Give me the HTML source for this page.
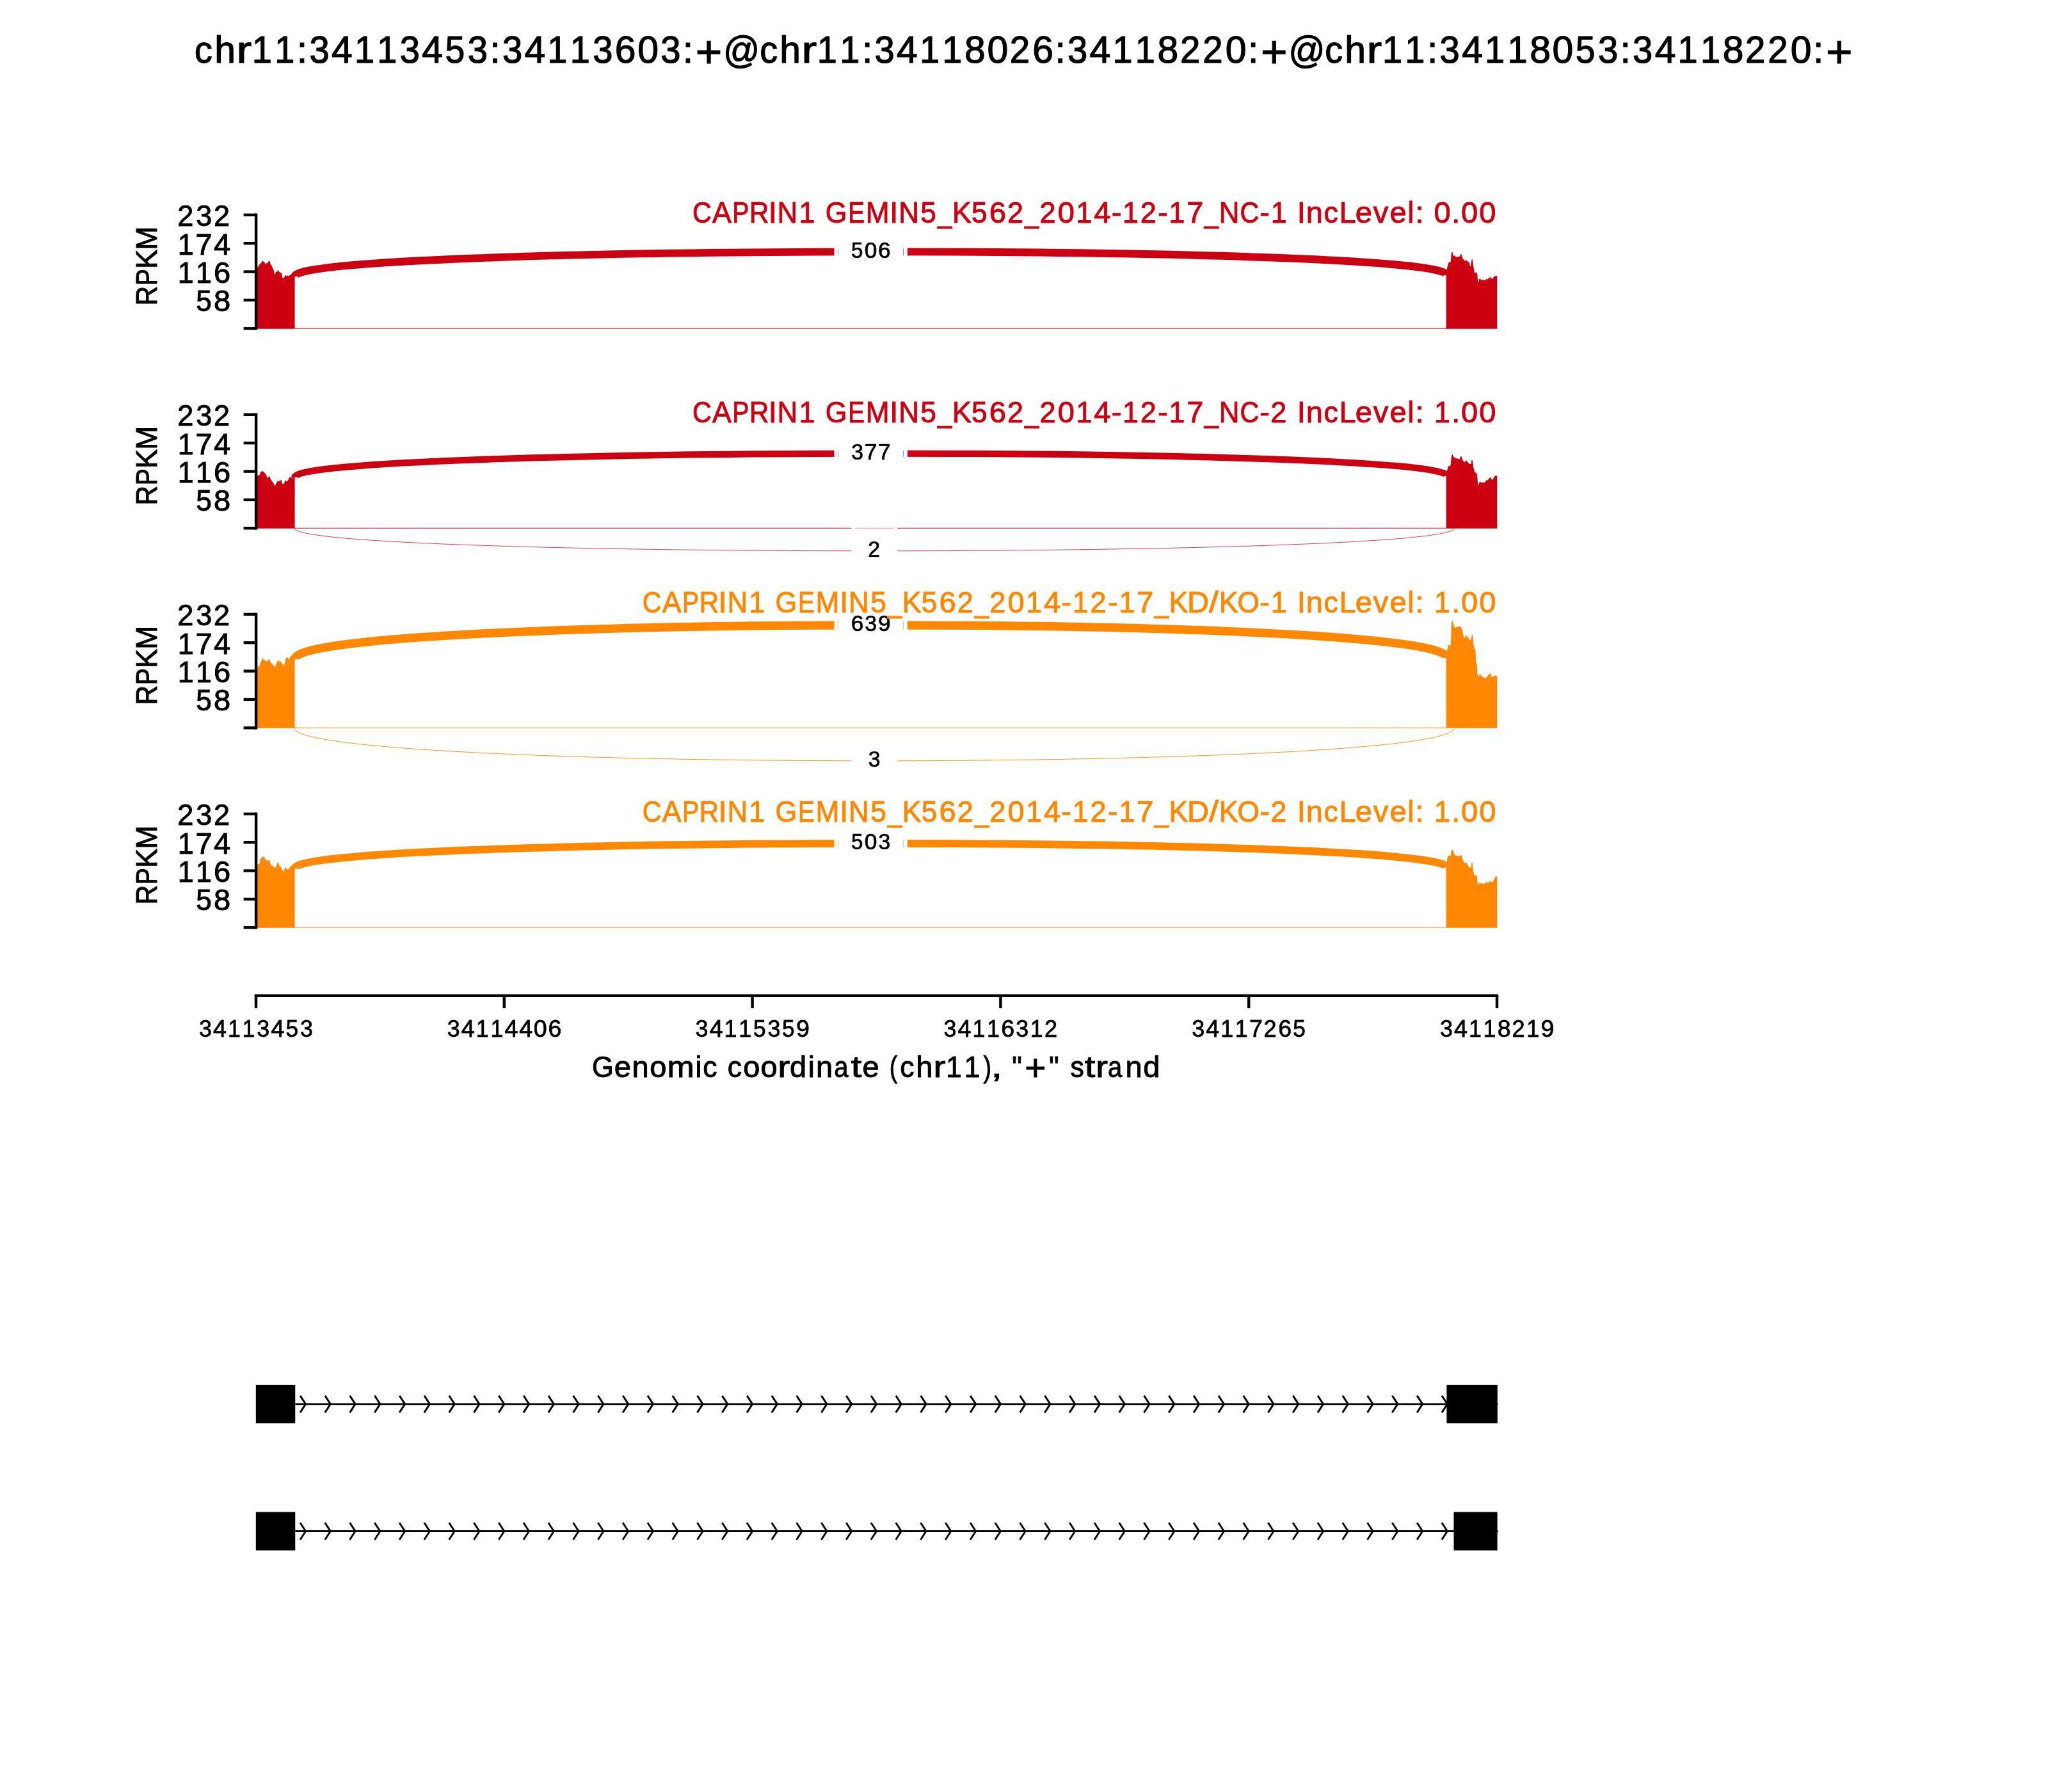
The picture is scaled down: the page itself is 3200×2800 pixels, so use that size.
<!DOCTYPE html>
<html lang="en">
<head>
<meta charset="utf-8">
<title>Sashimi plot chr11:34113453-34118220</title>
<style>
html,body{margin:0;padding:0;background:#fff;}
body{width:3200px;height:2800px;overflow:hidden;font-family:"Liberation Sans",sans-serif;}
svg{display:block;position:absolute;left:0;top:0;}
svg text{font-family:"Liberation Sans",sans-serif;white-space:pre;}
svg{will-change:transform;}
</style>
</head>
<body>
<svg width="3200" height="2800" viewBox="0 0 3200 2800">
<defs><clipPath id="gclip"><rect x="400" y="2100" width="1941" height="400"/></clipPath></defs>
<rect x="0" y="0" width="3200" height="2800" fill="#fff"/>
<text transform="translate(303.35 98.4)" font-size="58.87" fill="#000" stroke="#000" stroke-width="1.22"><tspan x="0.7" y="0" textLength="27.87" lengthAdjust="spacingAndGlyphs">c</tspan><tspan x="31.81" y="0">h</tspan><tspan x="66.07" y="0" textLength="23.7" lengthAdjust="spacingAndGlyphs">r</tspan><tspan x="90.44" y="0" textLength="31.11" lengthAdjust="spacingAndGlyphs">1</tspan><tspan x="125.79" y="0" textLength="31.11" lengthAdjust="spacingAndGlyphs">1</tspan><tspan x="160.48" y="0">:</tspan><tspan x="180.1" y="0" textLength="31.28" lengthAdjust="spacingAndGlyphs">3</tspan><tspan x="214.64" y="0">4</tspan><tspan x="250.54" y="0" textLength="31.11" lengthAdjust="spacingAndGlyphs">1</tspan><tspan x="285.89" y="0" textLength="31.11" lengthAdjust="spacingAndGlyphs">1</tspan><tspan x="321.48" y="0" textLength="31.28" lengthAdjust="spacingAndGlyphs">3</tspan><tspan x="356.03" y="0">4</tspan><tspan x="392.16" y="0" textLength="30.74" lengthAdjust="spacingAndGlyphs">5</tspan><tspan x="427.52" y="0" textLength="31.28" lengthAdjust="spacingAndGlyphs">3</tspan><tspan x="461.97" y="0">:</tspan><tspan x="481.59" y="0" textLength="31.28" lengthAdjust="spacingAndGlyphs">3</tspan><tspan x="516.13" y="0">4</tspan><tspan x="552.03" y="0" textLength="31.11" lengthAdjust="spacingAndGlyphs">1</tspan><tspan x="587.38" y="0" textLength="31.11" lengthAdjust="spacingAndGlyphs">1</tspan><tspan x="622.97" y="0" textLength="31.28" lengthAdjust="spacingAndGlyphs">3</tspan><tspan x="657.52 692.86" y="0">60</tspan><tspan x="729.01" y="0" textLength="31.28" lengthAdjust="spacingAndGlyphs">3</tspan><tspan x="763.46" y="0">:</tspan><tspan x="783.48" y="6.27" font-size="71.23">+</tspan><tspan x="826.76" y="0" textLength="57.34" lengthAdjust="spacingAndGlyphs">@</tspan><tspan x="883.79" y="0" textLength="27.87" lengthAdjust="spacingAndGlyphs">c</tspan><tspan x="914.9" y="0">h</tspan><tspan x="949.17" y="0" textLength="23.7" lengthAdjust="spacingAndGlyphs">r</tspan><tspan x="973.53" y="0" textLength="31.11" lengthAdjust="spacingAndGlyphs">1</tspan><tspan x="1008.88" y="0" textLength="31.11" lengthAdjust="spacingAndGlyphs">1</tspan><tspan x="1043.57" y="0">:</tspan><tspan x="1063.19" y="0" textLength="31.28" lengthAdjust="spacingAndGlyphs">3</tspan><tspan x="1097.73" y="0">4</tspan><tspan x="1133.63" y="0" textLength="31.11" lengthAdjust="spacingAndGlyphs">1</tspan><tspan x="1168.98" y="0" textLength="31.11" lengthAdjust="spacingAndGlyphs">1</tspan><tspan x="1203.77 1239.12" y="0">80</tspan><tspan x="1274.41" y="0" textLength="31.39" lengthAdjust="spacingAndGlyphs">2</tspan><tspan x="1309.81 1345.06" y="0">6:</tspan><tspan x="1364.68" y="0" textLength="31.28" lengthAdjust="spacingAndGlyphs">3</tspan><tspan x="1399.22" y="0">4</tspan><tspan x="1435.12" y="0" textLength="31.11" lengthAdjust="spacingAndGlyphs">1</tspan><tspan x="1470.47" y="0" textLength="31.11" lengthAdjust="spacingAndGlyphs">1</tspan><tspan x="1505.26" y="0">8</tspan><tspan x="1540.55" y="0" textLength="31.39" lengthAdjust="spacingAndGlyphs">2</tspan><tspan x="1575.9" y="0" textLength="31.39" lengthAdjust="spacingAndGlyphs">2</tspan><tspan x="1611.3 1646.55" y="0">0:</tspan><tspan x="1666.57" y="6.27" font-size="71.23">+</tspan><tspan x="1709.85" y="0" textLength="57.34" lengthAdjust="spacingAndGlyphs">@</tspan><tspan x="1766.88" y="0" textLength="27.87" lengthAdjust="spacingAndGlyphs">c</tspan><tspan x="1798" y="0">h</tspan><tspan x="1832.26" y="0" textLength="23.7" lengthAdjust="spacingAndGlyphs">r</tspan><tspan x="1856.62" y="0" textLength="31.11" lengthAdjust="spacingAndGlyphs">1</tspan><tspan x="1891.97" y="0" textLength="31.11" lengthAdjust="spacingAndGlyphs">1</tspan><tspan x="1926.67" y="0">:</tspan><tspan x="1946.28" y="0" textLength="31.28" lengthAdjust="spacingAndGlyphs">3</tspan><tspan x="1980.82" y="0">4</tspan><tspan x="2016.72" y="0" textLength="31.11" lengthAdjust="spacingAndGlyphs">1</tspan><tspan x="2052.07" y="0" textLength="31.11" lengthAdjust="spacingAndGlyphs">1</tspan><tspan x="2086.86 2122.21" y="0">80</tspan><tspan x="2158.34" y="0" textLength="30.74" lengthAdjust="spacingAndGlyphs">5</tspan><tspan x="2193.7" y="0" textLength="31.28" lengthAdjust="spacingAndGlyphs">3</tspan><tspan x="2228.15" y="0">:</tspan><tspan x="2247.77" y="0" textLength="31.28" lengthAdjust="spacingAndGlyphs">3</tspan><tspan x="2282.31" y="0">4</tspan><tspan x="2318.21" y="0" textLength="31.11" lengthAdjust="spacingAndGlyphs">1</tspan><tspan x="2353.56" y="0" textLength="31.11" lengthAdjust="spacingAndGlyphs">1</tspan><tspan x="2388.35" y="0">8</tspan><tspan x="2423.64" y="0" textLength="31.39" lengthAdjust="spacingAndGlyphs">2</tspan><tspan x="2458.99" y="0" textLength="31.39" lengthAdjust="spacingAndGlyphs">2</tspan><tspan x="2494.39 2529.64" y="0">0:</tspan><tspan x="2549.66" y="6.27" font-size="71.23">+</tspan></text>
<path d="M401.9 513.7 L401.9 418.3 L404.1 415.9 L406 412 L408.4 410.9 L409.4 407.3 L411 408.2 L413.4 409.7 L414.6 413.2 L416.6 410.5 L417.7 412 L418.9 408.9 L421.25 407.3 L422.8 412.8 L424.8 415.9 L427.5 421.8 L429.5 429.6 L431 425.3 L433 424.5 L434.5 421.4 L436.1 424.9 L440 426.5 L441.2 433.9 L443.5 434.7 L445.9 429.2 L447 431.6 L449.4 430.4 L450.9 431.6 L454.8 428.8 L457.2 428.3 L460.6 431.2 L460.6 513.7Z" fill="#CC0011"/>
<path d="M2259.6 513.7 L2259.6 430 L2261.25 418.3 L2263.6 410.1 L2266.7 409.3 L2267.9 394.5 L2269.5 394.1 L2271 400.3 L2272.6 399.1 L2273.75 400.7 L2277.7 401.9 L2280 400.3 L2280.8 401.5 L2282 397.6 L2283.5 397.2 L2285.5 404.6 L2287.8 405.8 L2288.6 407.7 L2291.7 406.6 L2294 409.7 L2296 409.7 L2296.8 415.9 L2298 415.9 L2299.5 405.4 L2300.7 405 L2302.3 416.7 L2304.2 426.9 L2306.2 425.7 L2307.3 424.9 L2308.5 430 L2309.3 440.9 L2310.5 439.4 L2312 434.3 L2314.8 438.6 L2316 436.6 L2317.5 437.8 L2321 437.4 L2322.6 435.5 L2323.4 437.8 L2325 435.1 L2326.9 433.9 L2328 435.1 L2329.4 431.2 L2330 433.9 L2331.6 435.9 L2333.1 433.9 L2335.1 431.6 L2337 431.2 L2338.2 431.6 L2339.3 430.4 L2339.3 513.7Z" fill="#CC0011"/>
<rect x="460.6" y="513" width="1799" height="1" fill="#CC0011" fill-opacity="0.68"/>
<rect x="460.6" y="512" width="1799" height="1" fill="#CC0011" fill-opacity="0.22"/>
<path d="M460.1 432 C460.1 381.73 2261.3 379.93 2261.3 430.2" fill="none" stroke="#CC0011" stroke-width="11.9"/>
<rect x="1303.5" y="353.2" width="6" height="75" fill="#fff"/>
<rect x="1310" y="353.2" width="101.4" height="75" fill="#fff"/>
<rect x="1411.9" y="353.2" width="6" height="75" fill="#fff"/>
<path d="M400.1 333.6 V515.52" stroke="#000" stroke-width="4.44" fill="none"/>
<path d="M380.6 335.82 H400.1" stroke="#000" stroke-width="4.44" fill="none"/>
<path d="M380.6 380.19 H400.1" stroke="#000" stroke-width="4.44" fill="none"/>
<path d="M380.6 424.56 H400.1" stroke="#000" stroke-width="4.44" fill="none"/>
<path d="M380.6 468.93 H400.1" stroke="#000" stroke-width="4.44" fill="none"/>
<path d="M380.6 513.3 H400.1" stroke="#000" stroke-width="4.44" fill="none"/>
<path d="M401.9 825.7 L401.9 743.6 L404.1 742.4 L406 742 L406.8 738.1 L409.9 736.1 L412.7 737.7 L414.6 740.8 L416.2 741.6 L417.3 747.5 L419.3 745.1 L421.6 744.3 L422.8 749 L424.8 751.4 L427.5 755.3 L429.3 759.6 L431.8 755.3 L434.1 751 L435.3 752.5 L438.4 750.2 L440 750.6 L441.2 755.7 L443.5 756.5 L445.9 749.4 L447 752.5 L449.4 751.4 L450.9 748.6 L452.5 745.5 L454.8 745.5 L456.4 747.5 L458 745.5 L460.6 745.9 L460.6 825.7Z" fill="#CC0011"/>
<path d="M2259.6 825.7 L2259.6 743.2 L2261.25 734.6 L2263.2 727.9 L2264.8 728.7 L2266.7 726.4 L2267.9 711.9 L2269.5 709.6 L2271 714.3 L2272.6 714.3 L2274.1 716.2 L2277.7 716.6 L2280.8 717.4 L2282 713.5 L2283.5 713.1 L2285.5 719.3 L2288.2 722.5 L2291.3 719.3 L2294 722.9 L2296.4 725.2 L2298.75 724.4 L2299.4 718.9 L2300.7 719.3 L2302.3 730.3 L2303.8 736.5 L2306.2 739.3 L2307.7 739.7 L2308.5 746.7 L2309.3 758.4 L2310.5 756.8 L2312 752.2 L2314.8 754.1 L2320.6 753.7 L2322.3 749.4 L2323.4 751.4 L2325 749.4 L2328 746.7 L2329.4 745.1 L2330.4 748.6 L2332.3 749.8 L2334.7 745.1 L2336.6 743.2 L2338.2 743.6 L2339.3 742.4 L2339.3 825.7Z" fill="#CC0011"/>
<rect x="460.6" y="825" width="1799" height="1" fill="#CC0011" fill-opacity="0.68"/>
<rect x="460.6" y="824" width="1799" height="1" fill="#CC0011" fill-opacity="0.22"/>
<path d="M460.1 745.8 C460.1 697.4 2261.3 695.6 2261.3 744" fill="none" stroke="#CC0011" stroke-width="10.3"/>
<rect x="1303.5" y="668.4" width="6" height="75" fill="#fff"/>
<rect x="1310" y="668.4" width="101.4" height="75" fill="#fff"/>
<rect x="1411.9" y="668.4" width="6" height="75" fill="#fff"/>
<path d="M460.1 825.3 C460.1 872.63 2272.2 872.63 2272.2 825.3" fill="none" stroke="#CC0011" stroke-width="0.75"/>
<rect x="1330.25" y="819.9" width="6" height="75" fill="#fff"/>
<rect x="1396.05" y="819.9" width="6" height="75" fill="#fff"/>
<rect x="1336.25" y="819.9" width="59.8" height="6.6" fill="#fff" fill-opacity="0.55"/>
<rect x="1330.25" y="826.5" width="71.8" height="68.4" fill="#fff"/>
<path d="M400.1 645.6 V827.52" stroke="#000" stroke-width="4.44" fill="none"/>
<path d="M380.6 647.82 H400.1" stroke="#000" stroke-width="4.44" fill="none"/>
<path d="M380.6 692.19 H400.1" stroke="#000" stroke-width="4.44" fill="none"/>
<path d="M380.6 736.56 H400.1" stroke="#000" stroke-width="4.44" fill="none"/>
<path d="M380.6 780.93 H400.1" stroke="#000" stroke-width="4.44" fill="none"/>
<path d="M380.6 825.3 H400.1" stroke="#000" stroke-width="4.44" fill="none"/>
<path d="M401.9 1137.7 L401.9 1043.1 L404.1 1041.1 L406 1040.7 L406.8 1035.25 L408.4 1032.9 L409.5 1027.8 L411.5 1030.2 L413.4 1031 L414.6 1032.9 L416.2 1031.3 L417.3 1034.5 L418.9 1031.3 L421.25 1030.2 L422.8 1035.25 L424.8 1036.8 L426.7 1039.5 L428.3 1039.2 L429.5 1044.2 L431 1038.8 L433 1034.9 L434.4 1031 L436.1 1033.3 L437.7 1034.5 L438.8 1032.9 L440 1036 L441.6 1038 L442.7 1037.6 L443.5 1040.7 L445.1 1036 L445.9 1029.4 L448.2 1027 L449.8 1027.4 L450.9 1031 L452.1 1030.6 L452.5 1027 L454 1026.3 L457 1028.5 L460.6 1029.8 L460.6 1137.7Z" fill="#FF8800"/>
<path d="M2259.6 1137.7 L2259.6 1028 L2261.4 1015 L2263 1007.4 L2264.7 1009 L2266.8 1007.4 L2267.9 973.3 L2269.5 969.5 L2271.7 978.2 L2273.9 981.4 L2277.7 978.7 L2279.8 979.8 L2282.5 978.7 L2284.2 982.5 L2285.8 990.6 L2288.5 997.7 L2291.2 991.7 L2293.4 996.6 L2295.5 997.7 L2296.6 1000.4 L2298.8 998.2 L2299.9 991.2 L2300.9 991.7 L2302.6 1008.5 L2304.2 1014.4 L2305.3 1015.5 L2306.4 1035.6 L2307.8 1038.8 L2308.5 1052.9 L2310.1 1057.8 L2312.3 1052.9 L2314.5 1056.1 L2317.7 1058.3 L2320.4 1059.9 L2322.1 1057.8 L2322.9 1058.8 L2325.3 1054.5 L2327.5 1053.4 L2329.4 1051.8 L2330.7 1057.2 L2332.3 1058.3 L2334.5 1055.6 L2337.8 1055.6 L2339.3 1056.7 L2339.3 1137.7Z" fill="#FF8800"/>
<rect x="460.6" y="1137" width="1799" height="1" fill="#FF8800" fill-opacity="0.68"/>
<rect x="460.6" y="1136" width="1799" height="1" fill="#FF8800" fill-opacity="0.22"/>
<path d="M460.1 1030 C460.1 960.53 2261.3 958.53 2261.3 1028" fill="none" stroke="#FF8800" stroke-width="13.2"/>
<rect x="1303.5" y="936.7" width="6" height="75" fill="#fff"/>
<rect x="1310" y="936.7" width="101.4" height="75" fill="#fff"/>
<rect x="1411.9" y="936.7" width="6" height="75" fill="#fff"/>
<path d="M460.1 1137.3 C460.1 1205.97 2272.2 1205.97 2272.2 1137.3" fill="none" stroke="#FF8800" stroke-width="0.92"/>
<rect x="1330.25" y="1147.9" width="71.8" height="75" fill="#fff"/>
<path d="M400.1 957.6 V1139.52" stroke="#000" stroke-width="4.44" fill="none"/>
<path d="M380.6 959.82 H400.1" stroke="#000" stroke-width="4.44" fill="none"/>
<path d="M380.6 1004.19 H400.1" stroke="#000" stroke-width="4.44" fill="none"/>
<path d="M380.6 1048.56 H400.1" stroke="#000" stroke-width="4.44" fill="none"/>
<path d="M380.6 1092.93 H400.1" stroke="#000" stroke-width="4.44" fill="none"/>
<path d="M380.6 1137.3 H400.1" stroke="#000" stroke-width="4.44" fill="none"/>
<path d="M401.9 1449.7 L401.9 1351.5 L404.1 1349.6 L406 1349.2 L406.6 1343 L408.4 1341 L409.9 1338.3 L413 1339.4 L415 1343.3 L416.6 1343.3 L417.5 1346.5 L418.9 1344.5 L421.25 1343.7 L422.8 1350.8 L424.8 1352.7 L426.7 1353.9 L428.3 1353.5 L429.3 1357.8 L431.8 1353.1 L433.4 1348 L434.5 1347.6 L436.5 1352.7 L438.4 1354.3 L440.8 1358.6 L443.5 1362.9 L445.1 1355.1 L446.25 1354.3 L447.2 1358.6 L450.2 1357.4 L451.3 1359 L453.3 1354.3 L454.8 1353.5 L457 1355.5 L460.6 1356.6 L460.6 1449.7Z" fill="#FF8800"/>
<path d="M2259.6 1449.7 L2259.6 1355.1 L2260.9 1346.1 L2262 1337.5 L2263.6 1336.7 L2265.5 1337.1 L2266.7 1338.7 L2267.9 1327.7 L2269.5 1327.3 L2272.6 1334.4 L2273.75 1337.1 L2276.9 1337.5 L2280 1337.1 L2281.2 1337.9 L2282.2 1336.3 L2283.5 1336.3 L2285.5 1343.3 L2287.8 1348 L2289.4 1348.8 L2291.7 1348 L2294.5 1353.9 L2295.6 1353.9 L2296.8 1356.2 L2298.75 1355.1 L2299.4 1348 L2300.7 1348 L2301.9 1361.3 L2303.4 1366.8 L2305.8 1368.3 L2307.7 1367.95 L2308.5 1376.2 L2309.3 1383.6 L2310.9 1380.8 L2312 1378.1 L2314 1380.8 L2316.7 1380.5 L2320.6 1380.8 L2321.6 1377.7 L2322.6 1377.3 L2323.4 1380.5 L2326.9 1377.7 L2328.4 1377.7 L2329.4 1375 L2330.4 1377.7 L2332.7 1378.1 L2334.7 1373.8 L2336.6 1369.9 L2338.2 1369.5 L2339.3 1369.1 L2339.3 1449.7Z" fill="#FF8800"/>
<rect x="460.6" y="1449" width="1799" height="1" fill="#FF8800" fill-opacity="0.68"/>
<rect x="460.6" y="1448" width="1799" height="1" fill="#FF8800" fill-opacity="0.22"/>
<path d="M460.1 1357 C460.1 1305.67 2261.3 1304.47 2261.3 1355.8" fill="none" stroke="#FF8800" stroke-width="11.8"/>
<rect x="1303.5" y="1277.7" width="6" height="75" fill="#fff"/>
<rect x="1310" y="1277.7" width="101.4" height="75" fill="#fff"/>
<rect x="1411.9" y="1277.7" width="6" height="75" fill="#fff"/>
<path d="M400.1 1269.6 V1451.52" stroke="#000" stroke-width="4.44" fill="none"/>
<path d="M380.6 1271.82 H400.1" stroke="#000" stroke-width="4.44" fill="none"/>
<path d="M380.6 1316.19 H400.1" stroke="#000" stroke-width="4.44" fill="none"/>
<path d="M380.6 1360.56 H400.1" stroke="#000" stroke-width="4.44" fill="none"/>
<path d="M380.6 1404.93 H400.1" stroke="#000" stroke-width="4.44" fill="none"/>
<path d="M380.6 1449.3 H400.1" stroke="#000" stroke-width="4.44" fill="none"/>
<text transform="translate(1328.89 402.85)" font-size="35.32" fill="#000" stroke="#000" stroke-width="0.73"><tspan x="1.24" y="0" textLength="18.44" lengthAdjust="spacingAndGlyphs">5</tspan><tspan x="21.98 43.19" y="0">06</tspan></text>
<text transform="translate(1081.61 347.6)" font-size="47.09" fill="#CC0011" stroke="#CC0011" stroke-width="0.98"><tspan x="0.4" y="0" textLength="29.79" lengthAdjust="spacingAndGlyphs">C</tspan><tspan x="31.29" y="0" textLength="29.86" lengthAdjust="spacingAndGlyphs">A</tspan><tspan x="62.57" y="0" textLength="26.22" lengthAdjust="spacingAndGlyphs">P</tspan><tspan x="89.11" y="0" textLength="30.7" lengthAdjust="spacingAndGlyphs">R</tspan><tspan x="119.13" y="0">I</tspan><tspan x="132.99" y="0" textLength="31.7" lengthAdjust="spacingAndGlyphs">N</tspan><tspan x="166.95" y="0" textLength="24.89" lengthAdjust="spacingAndGlyphs">1</tspan><tspan x="193.75" y="0"> </tspan><tspan x="208.19" y="0" textLength="33.72" lengthAdjust="spacingAndGlyphs">G</tspan><tspan x="243.52" y="0" textLength="25.69" lengthAdjust="spacingAndGlyphs">E</tspan><tspan x="271.12" y="0" textLength="36.91" lengthAdjust="spacingAndGlyphs">M</tspan><tspan x="308.75" y="0">I</tspan><tspan x="322.61" y="0" textLength="31.7" lengthAdjust="spacingAndGlyphs">N</tspan><tspan x="356.75" y="0" textLength="24.59" lengthAdjust="spacingAndGlyphs">5</tspan><tspan x="383.54" y="0" textLength="22.04" lengthAdjust="spacingAndGlyphs">_</tspan><tspan x="406.28" y="0" textLength="29.9" lengthAdjust="spacingAndGlyphs">K</tspan><tspan x="436.4" y="0" textLength="24.59" lengthAdjust="spacingAndGlyphs">5</tspan><tspan x="464.05" y="0">6</tspan><tspan x="492.28" y="0" textLength="25.12" lengthAdjust="spacingAndGlyphs">2</tspan><tspan x="519.74" y="0" textLength="22.04" lengthAdjust="spacingAndGlyphs">_</tspan><tspan x="542.78" y="0" textLength="25.12" lengthAdjust="spacingAndGlyphs">2</tspan><tspan x="571.1" y="0">0</tspan><tspan x="599.82" y="0" textLength="24.89" lengthAdjust="spacingAndGlyphs">1</tspan><tspan x="627.65 655.08" y="0">4-</tspan><tspan x="672.41" y="0" textLength="24.89" lengthAdjust="spacingAndGlyphs">1</tspan><tspan x="700.2" y="0" textLength="25.12" lengthAdjust="spacingAndGlyphs">2</tspan><tspan x="727.67" y="0">-</tspan><tspan x="745" y="0" textLength="24.89" lengthAdjust="spacingAndGlyphs">1</tspan><tspan x="772.75" y="0">7</tspan><tspan x="800.24" y="0" textLength="22.04" lengthAdjust="spacingAndGlyphs">_</tspan><tspan x="823.06" y="0" textLength="31.7" lengthAdjust="spacingAndGlyphs">N</tspan><tspan x="855.95" y="0" textLength="29.79" lengthAdjust="spacingAndGlyphs">C</tspan><tspan x="886.76" y="0">-</tspan><tspan x="904.09" y="0" textLength="24.89" lengthAdjust="spacingAndGlyphs">1</tspan><tspan x="930.89 945.03 959.21" y="0"> In</tspan><tspan x="986.85" y="0" textLength="22.3" lengthAdjust="spacingAndGlyphs">c</tspan><tspan x="1010.93 1036.16 1064.21 1089.8" y="0">Leve</tspan><tspan x="1117.61" y="0" textLength="10.09" lengthAdjust="spacingAndGlyphs">l</tspan><tspan x="1129.79 1143.8 1158.96 1186.71 1201.37 1229.64" y="0">: 0.00</tspan></text>
<text transform="translate(276.37 353.32)" font-size="47.09" fill="#000" stroke="#000" stroke-width="0.98"><tspan x="0.98" y="0" textLength="25.12" lengthAdjust="spacingAndGlyphs">2</tspan><tspan x="29.95" y="0" textLength="25.02" lengthAdjust="spacingAndGlyphs">3</tspan><tspan x="57.54" y="0" textLength="25.12" lengthAdjust="spacingAndGlyphs">2</tspan></text>
<text transform="translate(276.37 397.69)" font-size="47.09" fill="#000" stroke="#000" stroke-width="0.98"><tspan x="1.47" y="0" textLength="24.89" lengthAdjust="spacingAndGlyphs">1</tspan><tspan x="29.22 57.58" y="0">74</tspan></text>
<text transform="translate(276.37 442.06)" font-size="47.09" fill="#000" stroke="#000" stroke-width="0.98"><tspan x="1.47" y="0" textLength="24.89" lengthAdjust="spacingAndGlyphs">1</tspan><tspan x="29.75" y="0" textLength="24.89" lengthAdjust="spacingAndGlyphs">1</tspan><tspan x="57.59" y="0">6</tspan></text>
<text transform="translate(304.65 486.43)" font-size="47.09" fill="#000" stroke="#000" stroke-width="0.98"><tspan x="1.66" y="0" textLength="24.59" lengthAdjust="spacingAndGlyphs">5</tspan><tspan x="29.31" y="0">8</tspan></text>
<text transform="translate(245 478.3) rotate(-90)" font-size="47.09" fill="#000" stroke="#000" stroke-width="0.98"><tspan x="0.88" y="0" textLength="30.7" lengthAdjust="spacingAndGlyphs">R</tspan><tspan x="32.02" y="0" textLength="26.22" lengthAdjust="spacingAndGlyphs">P</tspan><tspan x="58.37" y="0" textLength="29.9" lengthAdjust="spacingAndGlyphs">K</tspan><tspan x="87.55" y="0" textLength="36.91" lengthAdjust="spacingAndGlyphs">M</tspan></text>
<text transform="translate(1328.89 718.05)" font-size="35.32" fill="#000" stroke="#000" stroke-width="0.73"><tspan x="1.25" y="0" textLength="18.77" lengthAdjust="spacingAndGlyphs">3</tspan><tspan x="21.92 43.12" y="0">77</tspan></text>
<text transform="translate(1355.55 869.55)" font-size="35.32" fill="#000" stroke="#000" stroke-width="0.73"><tspan x="0.74" y="0" textLength="18.84" lengthAdjust="spacingAndGlyphs">2</tspan></text>
<text transform="translate(1081.61 659.6)" font-size="47.09" fill="#CC0011" stroke="#CC0011" stroke-width="0.98"><tspan x="0.4" y="0" textLength="29.79" lengthAdjust="spacingAndGlyphs">C</tspan><tspan x="31.29" y="0" textLength="29.86" lengthAdjust="spacingAndGlyphs">A</tspan><tspan x="62.57" y="0" textLength="26.22" lengthAdjust="spacingAndGlyphs">P</tspan><tspan x="89.11" y="0" textLength="30.7" lengthAdjust="spacingAndGlyphs">R</tspan><tspan x="119.13" y="0">I</tspan><tspan x="132.99" y="0" textLength="31.7" lengthAdjust="spacingAndGlyphs">N</tspan><tspan x="166.95" y="0" textLength="24.89" lengthAdjust="spacingAndGlyphs">1</tspan><tspan x="193.75" y="0"> </tspan><tspan x="208.19" y="0" textLength="33.72" lengthAdjust="spacingAndGlyphs">G</tspan><tspan x="243.52" y="0" textLength="25.69" lengthAdjust="spacingAndGlyphs">E</tspan><tspan x="271.12" y="0" textLength="36.91" lengthAdjust="spacingAndGlyphs">M</tspan><tspan x="308.75" y="0">I</tspan><tspan x="322.61" y="0" textLength="31.7" lengthAdjust="spacingAndGlyphs">N</tspan><tspan x="356.75" y="0" textLength="24.59" lengthAdjust="spacingAndGlyphs">5</tspan><tspan x="383.54" y="0" textLength="22.04" lengthAdjust="spacingAndGlyphs">_</tspan><tspan x="406.28" y="0" textLength="29.9" lengthAdjust="spacingAndGlyphs">K</tspan><tspan x="436.4" y="0" textLength="24.59" lengthAdjust="spacingAndGlyphs">5</tspan><tspan x="464.05" y="0">6</tspan><tspan x="492.28" y="0" textLength="25.12" lengthAdjust="spacingAndGlyphs">2</tspan><tspan x="519.74" y="0" textLength="22.04" lengthAdjust="spacingAndGlyphs">_</tspan><tspan x="542.78" y="0" textLength="25.12" lengthAdjust="spacingAndGlyphs">2</tspan><tspan x="571.1" y="0">0</tspan><tspan x="599.82" y="0" textLength="24.89" lengthAdjust="spacingAndGlyphs">1</tspan><tspan x="627.65 655.08" y="0">4-</tspan><tspan x="672.41" y="0" textLength="24.89" lengthAdjust="spacingAndGlyphs">1</tspan><tspan x="700.2" y="0" textLength="25.12" lengthAdjust="spacingAndGlyphs">2</tspan><tspan x="727.67" y="0">-</tspan><tspan x="745" y="0" textLength="24.89" lengthAdjust="spacingAndGlyphs">1</tspan><tspan x="772.75" y="0">7</tspan><tspan x="800.24" y="0" textLength="22.04" lengthAdjust="spacingAndGlyphs">_</tspan><tspan x="823.06" y="0" textLength="31.7" lengthAdjust="spacingAndGlyphs">N</tspan><tspan x="855.95" y="0" textLength="29.79" lengthAdjust="spacingAndGlyphs">C</tspan><tspan x="886.76" y="0">-</tspan><tspan x="903.6" y="0" textLength="25.12" lengthAdjust="spacingAndGlyphs">2</tspan><tspan x="930.89 945.03 959.21" y="0"> In</tspan><tspan x="986.85" y="0" textLength="22.3" lengthAdjust="spacingAndGlyphs">c</tspan><tspan x="1010.93 1036.16 1064.21 1089.8" y="0">Leve</tspan><tspan x="1117.61" y="0" textLength="10.09" lengthAdjust="spacingAndGlyphs">l</tspan><tspan x="1129.79 1143.8" y="0">: </tspan><tspan x="1159.41" y="0" textLength="24.89" lengthAdjust="spacingAndGlyphs">1</tspan><tspan x="1186.71 1201.37 1229.64" y="0">.00</tspan></text>
<text transform="translate(276.37 665.32)" font-size="47.09" fill="#000" stroke="#000" stroke-width="0.98"><tspan x="0.98" y="0" textLength="25.12" lengthAdjust="spacingAndGlyphs">2</tspan><tspan x="29.95" y="0" textLength="25.02" lengthAdjust="spacingAndGlyphs">3</tspan><tspan x="57.54" y="0" textLength="25.12" lengthAdjust="spacingAndGlyphs">2</tspan></text>
<text transform="translate(276.37 709.69)" font-size="47.09" fill="#000" stroke="#000" stroke-width="0.98"><tspan x="1.47" y="0" textLength="24.89" lengthAdjust="spacingAndGlyphs">1</tspan><tspan x="29.22 57.58" y="0">74</tspan></text>
<text transform="translate(276.37 754.06)" font-size="47.09" fill="#000" stroke="#000" stroke-width="0.98"><tspan x="1.47" y="0" textLength="24.89" lengthAdjust="spacingAndGlyphs">1</tspan><tspan x="29.75" y="0" textLength="24.89" lengthAdjust="spacingAndGlyphs">1</tspan><tspan x="57.59" y="0">6</tspan></text>
<text transform="translate(304.65 798.43)" font-size="47.09" fill="#000" stroke="#000" stroke-width="0.98"><tspan x="1.66" y="0" textLength="24.59" lengthAdjust="spacingAndGlyphs">5</tspan><tspan x="29.31" y="0">8</tspan></text>
<text transform="translate(245 790.3) rotate(-90)" font-size="47.09" fill="#000" stroke="#000" stroke-width="0.98"><tspan x="0.88" y="0" textLength="30.7" lengthAdjust="spacingAndGlyphs">R</tspan><tspan x="32.02" y="0" textLength="26.22" lengthAdjust="spacingAndGlyphs">P</tspan><tspan x="58.37" y="0" textLength="29.9" lengthAdjust="spacingAndGlyphs">K</tspan><tspan x="87.55" y="0" textLength="36.91" lengthAdjust="spacingAndGlyphs">M</tspan></text>
<text transform="translate(1328.89 986.35)" font-size="35.32" fill="#000" stroke="#000" stroke-width="0.73"><tspan x="0.78" y="0">6</tspan><tspan x="22.46" y="0" textLength="18.77" lengthAdjust="spacingAndGlyphs">3</tspan><tspan x="43.08" y="0">9</tspan></text>
<text transform="translate(1355.55 1197.55)" font-size="35.32" fill="#000" stroke="#000" stroke-width="0.73"><tspan x="1.25" y="0" textLength="18.77" lengthAdjust="spacingAndGlyphs">3</tspan></text>
<text transform="translate(1003.42 956.8)" font-size="47.09" fill="#FF8800" stroke="#FF8800" stroke-width="0.98"><tspan x="0.4" y="0" textLength="29.79" lengthAdjust="spacingAndGlyphs">C</tspan><tspan x="31.29" y="0" textLength="29.86" lengthAdjust="spacingAndGlyphs">A</tspan><tspan x="62.57" y="0" textLength="26.22" lengthAdjust="spacingAndGlyphs">P</tspan><tspan x="89.11" y="0" textLength="30.7" lengthAdjust="spacingAndGlyphs">R</tspan><tspan x="119.13" y="0">I</tspan><tspan x="132.99" y="0" textLength="31.7" lengthAdjust="spacingAndGlyphs">N</tspan><tspan x="166.95" y="0" textLength="24.89" lengthAdjust="spacingAndGlyphs">1</tspan><tspan x="193.75" y="0"> </tspan><tspan x="208.19" y="0" textLength="33.72" lengthAdjust="spacingAndGlyphs">G</tspan><tspan x="243.52" y="0" textLength="25.69" lengthAdjust="spacingAndGlyphs">E</tspan><tspan x="271.12" y="0" textLength="36.91" lengthAdjust="spacingAndGlyphs">M</tspan><tspan x="308.75" y="0">I</tspan><tspan x="322.61" y="0" textLength="31.7" lengthAdjust="spacingAndGlyphs">N</tspan><tspan x="356.75" y="0" textLength="24.59" lengthAdjust="spacingAndGlyphs">5</tspan><tspan x="383.54" y="0" textLength="22.04" lengthAdjust="spacingAndGlyphs">_</tspan><tspan x="406.28" y="0" textLength="29.9" lengthAdjust="spacingAndGlyphs">K</tspan><tspan x="436.4" y="0" textLength="24.59" lengthAdjust="spacingAndGlyphs">5</tspan><tspan x="464.05" y="0">6</tspan><tspan x="492.28" y="0" textLength="25.12" lengthAdjust="spacingAndGlyphs">2</tspan><tspan x="519.74" y="0" textLength="22.04" lengthAdjust="spacingAndGlyphs">_</tspan><tspan x="542.78" y="0" textLength="25.12" lengthAdjust="spacingAndGlyphs">2</tspan><tspan x="571.1" y="0">0</tspan><tspan x="599.82" y="0" textLength="24.89" lengthAdjust="spacingAndGlyphs">1</tspan><tspan x="627.65 655.08" y="0">4-</tspan><tspan x="672.41" y="0" textLength="24.89" lengthAdjust="spacingAndGlyphs">1</tspan><tspan x="700.2" y="0" textLength="25.12" lengthAdjust="spacingAndGlyphs">2</tspan><tspan x="727.67" y="0">-</tspan><tspan x="745" y="0" textLength="24.89" lengthAdjust="spacingAndGlyphs">1</tspan><tspan x="772.75" y="0">7</tspan><tspan x="800.24" y="0" textLength="22.04" lengthAdjust="spacingAndGlyphs">_</tspan><tspan x="822.99" y="0" textLength="29.9" lengthAdjust="spacingAndGlyphs">K</tspan><tspan x="851.62" y="0">D</tspan><tspan x="885.67" y="0" textLength="14.97" lengthAdjust="spacingAndGlyphs">/</tspan><tspan x="901.33" y="0" textLength="29.9" lengthAdjust="spacingAndGlyphs">K</tspan><tspan x="930.2" y="0" textLength="34.17" lengthAdjust="spacingAndGlyphs">O</tspan><tspan x="964.95" y="0">-</tspan><tspan x="982.28" y="0" textLength="24.89" lengthAdjust="spacingAndGlyphs">1</tspan><tspan x="1009.08 1023.22 1037.4" y="0"> In</tspan><tspan x="1065.04" y="0" textLength="22.3" lengthAdjust="spacingAndGlyphs">c</tspan><tspan x="1089.12 1114.35 1142.4 1167.99" y="0">Leve</tspan><tspan x="1195.8" y="0" textLength="10.09" lengthAdjust="spacingAndGlyphs">l</tspan><tspan x="1207.97 1221.99" y="0">: </tspan><tspan x="1237.59" y="0" textLength="24.89" lengthAdjust="spacingAndGlyphs">1</tspan><tspan x="1264.9 1279.56 1307.83" y="0">.00</tspan></text>
<text transform="translate(276.37 977.32)" font-size="47.09" fill="#000" stroke="#000" stroke-width="0.98"><tspan x="0.98" y="0" textLength="25.12" lengthAdjust="spacingAndGlyphs">2</tspan><tspan x="29.95" y="0" textLength="25.02" lengthAdjust="spacingAndGlyphs">3</tspan><tspan x="57.54" y="0" textLength="25.12" lengthAdjust="spacingAndGlyphs">2</tspan></text>
<text transform="translate(276.37 1021.69)" font-size="47.09" fill="#000" stroke="#000" stroke-width="0.98"><tspan x="1.47" y="0" textLength="24.89" lengthAdjust="spacingAndGlyphs">1</tspan><tspan x="29.22 57.58" y="0">74</tspan></text>
<text transform="translate(276.37 1066.06)" font-size="47.09" fill="#000" stroke="#000" stroke-width="0.98"><tspan x="1.47" y="0" textLength="24.89" lengthAdjust="spacingAndGlyphs">1</tspan><tspan x="29.75" y="0" textLength="24.89" lengthAdjust="spacingAndGlyphs">1</tspan><tspan x="57.59" y="0">6</tspan></text>
<text transform="translate(304.65 1110.43)" font-size="47.09" fill="#000" stroke="#000" stroke-width="0.98"><tspan x="1.66" y="0" textLength="24.59" lengthAdjust="spacingAndGlyphs">5</tspan><tspan x="29.31" y="0">8</tspan></text>
<text transform="translate(245 1102.3) rotate(-90)" font-size="47.09" fill="#000" stroke="#000" stroke-width="0.98"><tspan x="0.88" y="0" textLength="30.7" lengthAdjust="spacingAndGlyphs">R</tspan><tspan x="32.02" y="0" textLength="26.22" lengthAdjust="spacingAndGlyphs">P</tspan><tspan x="58.37" y="0" textLength="29.9" lengthAdjust="spacingAndGlyphs">K</tspan><tspan x="87.55" y="0" textLength="36.91" lengthAdjust="spacingAndGlyphs">M</tspan></text>
<text transform="translate(1328.89 1327.35)" font-size="35.32" fill="#000" stroke="#000" stroke-width="0.73"><tspan x="1.24" y="0" textLength="18.44" lengthAdjust="spacingAndGlyphs">5</tspan><tspan x="21.98" y="0">0</tspan><tspan x="43.67" y="0" textLength="18.77" lengthAdjust="spacingAndGlyphs">3</tspan></text>
<text transform="translate(1003.42 1284.4)" font-size="47.09" fill="#FF8800" stroke="#FF8800" stroke-width="0.98"><tspan x="0.4" y="0" textLength="29.79" lengthAdjust="spacingAndGlyphs">C</tspan><tspan x="31.29" y="0" textLength="29.86" lengthAdjust="spacingAndGlyphs">A</tspan><tspan x="62.57" y="0" textLength="26.22" lengthAdjust="spacingAndGlyphs">P</tspan><tspan x="89.11" y="0" textLength="30.7" lengthAdjust="spacingAndGlyphs">R</tspan><tspan x="119.13" y="0">I</tspan><tspan x="132.99" y="0" textLength="31.7" lengthAdjust="spacingAndGlyphs">N</tspan><tspan x="166.95" y="0" textLength="24.89" lengthAdjust="spacingAndGlyphs">1</tspan><tspan x="193.75" y="0"> </tspan><tspan x="208.19" y="0" textLength="33.72" lengthAdjust="spacingAndGlyphs">G</tspan><tspan x="243.52" y="0" textLength="25.69" lengthAdjust="spacingAndGlyphs">E</tspan><tspan x="271.12" y="0" textLength="36.91" lengthAdjust="spacingAndGlyphs">M</tspan><tspan x="308.75" y="0">I</tspan><tspan x="322.61" y="0" textLength="31.7" lengthAdjust="spacingAndGlyphs">N</tspan><tspan x="356.75" y="0" textLength="24.59" lengthAdjust="spacingAndGlyphs">5</tspan><tspan x="383.54" y="0" textLength="22.04" lengthAdjust="spacingAndGlyphs">_</tspan><tspan x="406.28" y="0" textLength="29.9" lengthAdjust="spacingAndGlyphs">K</tspan><tspan x="436.4" y="0" textLength="24.59" lengthAdjust="spacingAndGlyphs">5</tspan><tspan x="464.05" y="0">6</tspan><tspan x="492.28" y="0" textLength="25.12" lengthAdjust="spacingAndGlyphs">2</tspan><tspan x="519.74" y="0" textLength="22.04" lengthAdjust="spacingAndGlyphs">_</tspan><tspan x="542.78" y="0" textLength="25.12" lengthAdjust="spacingAndGlyphs">2</tspan><tspan x="571.1" y="0">0</tspan><tspan x="599.82" y="0" textLength="24.89" lengthAdjust="spacingAndGlyphs">1</tspan><tspan x="627.65 655.08" y="0">4-</tspan><tspan x="672.41" y="0" textLength="24.89" lengthAdjust="spacingAndGlyphs">1</tspan><tspan x="700.2" y="0" textLength="25.12" lengthAdjust="spacingAndGlyphs">2</tspan><tspan x="727.67" y="0">-</tspan><tspan x="745" y="0" textLength="24.89" lengthAdjust="spacingAndGlyphs">1</tspan><tspan x="772.75" y="0">7</tspan><tspan x="800.24" y="0" textLength="22.04" lengthAdjust="spacingAndGlyphs">_</tspan><tspan x="822.99" y="0" textLength="29.9" lengthAdjust="spacingAndGlyphs">K</tspan><tspan x="851.62" y="0">D</tspan><tspan x="885.67" y="0" textLength="14.97" lengthAdjust="spacingAndGlyphs">/</tspan><tspan x="901.33" y="0" textLength="29.9" lengthAdjust="spacingAndGlyphs">K</tspan><tspan x="930.2" y="0" textLength="34.17" lengthAdjust="spacingAndGlyphs">O</tspan><tspan x="964.95" y="0">-</tspan><tspan x="981.79" y="0" textLength="25.12" lengthAdjust="spacingAndGlyphs">2</tspan><tspan x="1009.08 1023.22 1037.4" y="0"> In</tspan><tspan x="1065.04" y="0" textLength="22.3" lengthAdjust="spacingAndGlyphs">c</tspan><tspan x="1089.12 1114.35 1142.4 1167.99" y="0">Leve</tspan><tspan x="1195.8" y="0" textLength="10.09" lengthAdjust="spacingAndGlyphs">l</tspan><tspan x="1207.97 1221.99" y="0">: </tspan><tspan x="1237.59" y="0" textLength="24.89" lengthAdjust="spacingAndGlyphs">1</tspan><tspan x="1264.9 1279.56 1307.83" y="0">.00</tspan></text>
<text transform="translate(276.37 1289.32)" font-size="47.09" fill="#000" stroke="#000" stroke-width="0.98"><tspan x="0.98" y="0" textLength="25.12" lengthAdjust="spacingAndGlyphs">2</tspan><tspan x="29.95" y="0" textLength="25.02" lengthAdjust="spacingAndGlyphs">3</tspan><tspan x="57.54" y="0" textLength="25.12" lengthAdjust="spacingAndGlyphs">2</tspan></text>
<text transform="translate(276.37 1333.69)" font-size="47.09" fill="#000" stroke="#000" stroke-width="0.98"><tspan x="1.47" y="0" textLength="24.89" lengthAdjust="spacingAndGlyphs">1</tspan><tspan x="29.22 57.58" y="0">74</tspan></text>
<text transform="translate(276.37 1378.06)" font-size="47.09" fill="#000" stroke="#000" stroke-width="0.98"><tspan x="1.47" y="0" textLength="24.89" lengthAdjust="spacingAndGlyphs">1</tspan><tspan x="29.75" y="0" textLength="24.89" lengthAdjust="spacingAndGlyphs">1</tspan><tspan x="57.59" y="0">6</tspan></text>
<text transform="translate(304.65 1422.43)" font-size="47.09" fill="#000" stroke="#000" stroke-width="0.98"><tspan x="1.66" y="0" textLength="24.59" lengthAdjust="spacingAndGlyphs">5</tspan><tspan x="29.31" y="0">8</tspan></text>
<text transform="translate(245 1414.3) rotate(-90)" font-size="47.09" fill="#000" stroke="#000" stroke-width="0.98"><tspan x="0.88" y="0" textLength="30.7" lengthAdjust="spacingAndGlyphs">R</tspan><tspan x="32.02" y="0" textLength="26.22" lengthAdjust="spacingAndGlyphs">P</tspan><tspan x="58.37" y="0" textLength="29.9" lengthAdjust="spacingAndGlyphs">K</tspan><tspan x="87.55" y="0" textLength="36.91" lengthAdjust="spacingAndGlyphs">M</tspan></text>
<path d="M400 1555.8 H2339" stroke="#000" stroke-width="4.44" stroke-linecap="square" fill="none"/>
<path d="M400 1555.8 V1575.2" stroke="#000" stroke-width="4.44" fill="none"/>
<text transform="translate(309.66 1620.1)" font-size="37.62" fill="#000" stroke="#000" stroke-width="0.78"><tspan x="1.34" y="0" textLength="19.99" lengthAdjust="spacingAndGlyphs">3</tspan><tspan x="23.41" y="0">4</tspan><tspan x="46.35" y="0" textLength="19.88" lengthAdjust="spacingAndGlyphs">1</tspan><tspan x="68.94" y="0" textLength="19.88" lengthAdjust="spacingAndGlyphs">1</tspan><tspan x="91.68" y="0" textLength="19.99" lengthAdjust="spacingAndGlyphs">3</tspan><tspan x="113.75" y="0">4</tspan><tspan x="136.84" y="0" textLength="19.64" lengthAdjust="spacingAndGlyphs">5</tspan><tspan x="159.44" y="0" textLength="19.99" lengthAdjust="spacingAndGlyphs">3</tspan></text>
<path d="M787.8 1555.8 V1575.2" stroke="#000" stroke-width="4.44" fill="none"/>
<text transform="translate(697.46 1620.1)" font-size="37.62" fill="#000" stroke="#000" stroke-width="0.78"><tspan x="1.34" y="0" textLength="19.99" lengthAdjust="spacingAndGlyphs">3</tspan><tspan x="23.41" y="0">4</tspan><tspan x="46.35" y="0" textLength="19.88" lengthAdjust="spacingAndGlyphs">1</tspan><tspan x="68.94" y="0" textLength="19.88" lengthAdjust="spacingAndGlyphs">1</tspan><tspan x="91.17 113.75 136.34 158.93" y="0">4406</tspan></text>
<path d="M1175.6 1555.8 V1575.2" stroke="#000" stroke-width="4.44" fill="none"/>
<text transform="translate(1085.26 1620.1)" font-size="37.62" fill="#000" stroke="#000" stroke-width="0.78"><tspan x="1.34" y="0" textLength="19.99" lengthAdjust="spacingAndGlyphs">3</tspan><tspan x="23.41" y="0">4</tspan><tspan x="46.35" y="0" textLength="19.88" lengthAdjust="spacingAndGlyphs">1</tspan><tspan x="68.94" y="0" textLength="19.88" lengthAdjust="spacingAndGlyphs">1</tspan><tspan x="91.67" y="0" textLength="19.64" lengthAdjust="spacingAndGlyphs">5</tspan><tspan x="114.27" y="0" textLength="19.99" lengthAdjust="spacingAndGlyphs">3</tspan><tspan x="136.84" y="0" textLength="19.64" lengthAdjust="spacingAndGlyphs">5</tspan><tspan x="158.82" y="0">9</tspan></text>
<path d="M1563.4 1555.8 V1575.2" stroke="#000" stroke-width="4.44" fill="none"/>
<text transform="translate(1473.06 1620.1)" font-size="37.62" fill="#000" stroke="#000" stroke-width="0.78"><tspan x="1.34" y="0" textLength="19.99" lengthAdjust="spacingAndGlyphs">3</tspan><tspan x="23.41" y="0">4</tspan><tspan x="46.35" y="0" textLength="19.88" lengthAdjust="spacingAndGlyphs">1</tspan><tspan x="68.94" y="0" textLength="19.88" lengthAdjust="spacingAndGlyphs">1</tspan><tspan x="91.17" y="0">6</tspan><tspan x="114.27" y="0" textLength="19.99" lengthAdjust="spacingAndGlyphs">3</tspan><tspan x="136.69" y="0" textLength="19.88" lengthAdjust="spacingAndGlyphs">1</tspan><tspan x="158.89" y="0" textLength="20.06" lengthAdjust="spacingAndGlyphs">2</tspan></text>
<path d="M1951.2 1555.8 V1575.2" stroke="#000" stroke-width="4.44" fill="none"/>
<text transform="translate(1860.86 1620.1)" font-size="37.62" fill="#000" stroke="#000" stroke-width="0.78"><tspan x="1.34" y="0" textLength="19.99" lengthAdjust="spacingAndGlyphs">3</tspan><tspan x="23.41" y="0">4</tspan><tspan x="46.35" y="0" textLength="19.88" lengthAdjust="spacingAndGlyphs">1</tspan><tspan x="68.94" y="0" textLength="19.88" lengthAdjust="spacingAndGlyphs">1</tspan><tspan x="91.1" y="0">7</tspan><tspan x="113.72" y="0" textLength="20.06" lengthAdjust="spacingAndGlyphs">2</tspan><tspan x="136.34" y="0">6</tspan><tspan x="159.43" y="0" textLength="19.64" lengthAdjust="spacingAndGlyphs">5</tspan></text>
<path d="M2339 1555.8 V1575.2" stroke="#000" stroke-width="4.44" fill="none"/>
<text transform="translate(2248.66 1620.1)" font-size="37.62" fill="#000" stroke="#000" stroke-width="0.78"><tspan x="1.34" y="0" textLength="19.99" lengthAdjust="spacingAndGlyphs">3</tspan><tspan x="23.41" y="0">4</tspan><tspan x="46.35" y="0" textLength="19.88" lengthAdjust="spacingAndGlyphs">1</tspan><tspan x="68.94" y="0" textLength="19.88" lengthAdjust="spacingAndGlyphs">1</tspan><tspan x="91.17" y="0">8</tspan><tspan x="113.72" y="0" textLength="20.06" lengthAdjust="spacingAndGlyphs">2</tspan><tspan x="136.69" y="0" textLength="19.88" lengthAdjust="spacingAndGlyphs">1</tspan><tspan x="158.82" y="0">9</tspan></text>
<text transform="translate(924.7 1682.5)" font-size="47.09" fill="#000" stroke="#000" stroke-width="0.98"><tspan x="0.32" y="0" textLength="33.72" lengthAdjust="spacingAndGlyphs">G</tspan><tspan x="35.13 62.92 90.53" y="0">eno</tspan><tspan x="117.91" y="0" textLength="42.18" lengthAdjust="spacingAndGlyphs">m</tspan><tspan x="161.71" y="0" textLength="10.09" lengthAdjust="spacingAndGlyphs">i</tspan><tspan x="173.48" y="0" textLength="22.3" lengthAdjust="spacingAndGlyphs">c</tspan><tspan x="197.38" y="0"> </tspan><tspan x="212.07" y="0" textLength="22.3" lengthAdjust="spacingAndGlyphs">c</tspan><tspan x="236.48 263.7" y="0">oo</tspan><tspan x="290.65" y="0" textLength="18.96" lengthAdjust="spacingAndGlyphs">r</tspan><tspan x="309.43" y="0">d</tspan><tspan x="338.07" y="0" textLength="10.09" lengthAdjust="spacingAndGlyphs">i</tspan><tspan x="350.36" y="0">n</tspan><tspan x="378.44" y="0" textLength="22.23" lengthAdjust="spacingAndGlyphs">a</tspan><tspan x="405.02" y="0" textLength="16.5" lengthAdjust="spacingAndGlyphs">t</tspan><tspan x="422.83 449.53" y="0">e </tspan><tspan x="465.16" y="0" textLength="12.51" lengthAdjust="spacingAndGlyphs">(</tspan><tspan x="481.58" y="0" textLength="22.3" lengthAdjust="spacingAndGlyphs">c</tspan><tspan x="506.49" y="0">h</tspan><tspan x="533.92" y="0" textLength="18.96" lengthAdjust="spacingAndGlyphs">r</tspan><tspan x="553.43" y="0" textLength="24.89" lengthAdjust="spacingAndGlyphs">1</tspan><tspan x="581.73" y="0" textLength="24.89" lengthAdjust="spacingAndGlyphs">1</tspan><tspan x="611.89" y="0" textLength="12.51" lengthAdjust="spacingAndGlyphs">)</tspan><tspan x="623.51" y="0" textLength="18" lengthAdjust="spacingAndGlyphs">,</tspan><tspan x="640.05" y="0"> </tspan><tspan x="656.59" y="0" textLength="15.63" lengthAdjust="spacingAndGlyphs">&quot;</tspan><tspan x="676.64" y="5.01" font-size="56.98">+</tspan><tspan x="714.32" y="0" textLength="15.63" lengthAdjust="spacingAndGlyphs">&quot;</tspan><tspan x="732.37" y="0"> </tspan><tspan x="747.73" y="0" textLength="21.3" lengthAdjust="spacingAndGlyphs">s</tspan><tspan x="769.98" y="0" textLength="16.5" lengthAdjust="spacingAndGlyphs">t</tspan><tspan x="787.38" y="0" textLength="18.96" lengthAdjust="spacingAndGlyphs">r</tspan><tspan x="806.38" y="0" textLength="22.23" lengthAdjust="spacingAndGlyphs">a</tspan><tspan x="833.75 861.6" y="0">nd</tspan></text>
<path d="M461.3 2193.9 H2340.6" stroke="#000" stroke-width="2.9" fill="none"/>
<path d="M392.24 2181.9 L400 2193.9 L392.24 2205.9 M431.02 2181.9 L438.78 2193.9 L431.02 2205.9 M469.8 2181.9 L477.56 2193.9 L469.8 2205.9 M508.58 2181.9 L516.34 2193.9 L508.58 2205.9 M547.36 2181.9 L555.12 2193.9 L547.36 2205.9 M586.14 2181.9 L593.9 2193.9 L586.14 2205.9 M624.92 2181.9 L632.68 2193.9 L624.92 2205.9 M663.7 2181.9 L671.46 2193.9 L663.7 2205.9 M702.48 2181.9 L710.24 2193.9 L702.48 2205.9 M741.26 2181.9 L749.02 2193.9 L741.26 2205.9 M780.04 2181.9 L787.8 2193.9 L780.04 2205.9 M818.82 2181.9 L826.58 2193.9 L818.82 2205.9 M857.6 2181.9 L865.36 2193.9 L857.6 2205.9 M896.38 2181.9 L904.14 2193.9 L896.38 2205.9 M935.16 2181.9 L942.92 2193.9 L935.16 2205.9 M973.94 2181.9 L981.7 2193.9 L973.94 2205.9 M1012.72 2181.9 L1020.48 2193.9 L1012.72 2205.9 M1051.5 2181.9 L1059.26 2193.9 L1051.5 2205.9 M1090.28 2181.9 L1098.04 2193.9 L1090.28 2205.9 M1129.06 2181.9 L1136.82 2193.9 L1129.06 2205.9 M1167.84 2181.9 L1175.6 2193.9 L1167.84 2205.9 M1206.62 2181.9 L1214.38 2193.9 L1206.62 2205.9 M1245.4 2181.9 L1253.16 2193.9 L1245.4 2205.9 M1284.18 2181.9 L1291.94 2193.9 L1284.18 2205.9 M1322.96 2181.9 L1330.72 2193.9 L1322.96 2205.9 M1361.74 2181.9 L1369.5 2193.9 L1361.74 2205.9 M1400.52 2181.9 L1408.28 2193.9 L1400.52 2205.9 M1439.3 2181.9 L1447.06 2193.9 L1439.3 2205.9 M1478.08 2181.9 L1485.84 2193.9 L1478.08 2205.9 M1516.86 2181.9 L1524.62 2193.9 L1516.86 2205.9 M1555.64 2181.9 L1563.4 2193.9 L1555.64 2205.9 M1594.42 2181.9 L1602.18 2193.9 L1594.42 2205.9 M1633.2 2181.9 L1640.96 2193.9 L1633.2 2205.9 M1671.98 2181.9 L1679.74 2193.9 L1671.98 2205.9 M1710.76 2181.9 L1718.52 2193.9 L1710.76 2205.9 M1749.54 2181.9 L1757.3 2193.9 L1749.54 2205.9 M1788.32 2181.9 L1796.08 2193.9 L1788.32 2205.9 M1827.1 2181.9 L1834.86 2193.9 L1827.1 2205.9 M1865.88 2181.9 L1873.64 2193.9 L1865.88 2205.9 M1904.66 2181.9 L1912.42 2193.9 L1904.66 2205.9 M1943.44 2181.9 L1951.2 2193.9 L1943.44 2205.9 M1982.22 2181.9 L1989.98 2193.9 L1982.22 2205.9 M2021 2181.9 L2028.76 2193.9 L2021 2205.9 M2059.78 2181.9 L2067.54 2193.9 L2059.78 2205.9 M2098.56 2181.9 L2106.32 2193.9 L2098.56 2205.9 M2137.34 2181.9 L2145.1 2193.9 L2137.34 2205.9 M2176.12 2181.9 L2183.88 2193.9 L2176.12 2205.9 M2214.9 2181.9 L2222.66 2193.9 L2214.9 2205.9 M2253.68 2181.9 L2261.44 2193.9 L2253.68 2205.9 M2292.46 2181.9 L2300.22 2193.9 L2292.46 2205.9" stroke="#000" stroke-width="2.9" stroke-linecap="square" stroke-linejoin="round" fill="none" clip-path="url(#gclip)"/>
<rect x="399.8" y="2163.9" width="61.5" height="60" fill="#000"/>
<rect x="2260.4" y="2163.9" width="79.4" height="60" fill="#000"/>
<path d="M461.3 2392.5 H2340.6" stroke="#000" stroke-width="2.9" fill="none"/>
<path d="M392.24 2380.5 L400 2392.5 L392.24 2404.5 M431.02 2380.5 L438.78 2392.5 L431.02 2404.5 M469.8 2380.5 L477.56 2392.5 L469.8 2404.5 M508.58 2380.5 L516.34 2392.5 L508.58 2404.5 M547.36 2380.5 L555.12 2392.5 L547.36 2404.5 M586.14 2380.5 L593.9 2392.5 L586.14 2404.5 M624.92 2380.5 L632.68 2392.5 L624.92 2404.5 M663.7 2380.5 L671.46 2392.5 L663.7 2404.5 M702.48 2380.5 L710.24 2392.5 L702.48 2404.5 M741.26 2380.5 L749.02 2392.5 L741.26 2404.5 M780.04 2380.5 L787.8 2392.5 L780.04 2404.5 M818.82 2380.5 L826.58 2392.5 L818.82 2404.5 M857.6 2380.5 L865.36 2392.5 L857.6 2404.5 M896.38 2380.5 L904.14 2392.5 L896.38 2404.5 M935.16 2380.5 L942.92 2392.5 L935.16 2404.5 M973.94 2380.5 L981.7 2392.5 L973.94 2404.5 M1012.72 2380.5 L1020.48 2392.5 L1012.72 2404.5 M1051.5 2380.5 L1059.26 2392.5 L1051.5 2404.5 M1090.28 2380.5 L1098.04 2392.5 L1090.28 2404.5 M1129.06 2380.5 L1136.82 2392.5 L1129.06 2404.5 M1167.84 2380.5 L1175.6 2392.5 L1167.84 2404.5 M1206.62 2380.5 L1214.38 2392.5 L1206.62 2404.5 M1245.4 2380.5 L1253.16 2392.5 L1245.4 2404.5 M1284.18 2380.5 L1291.94 2392.5 L1284.18 2404.5 M1322.96 2380.5 L1330.72 2392.5 L1322.96 2404.5 M1361.74 2380.5 L1369.5 2392.5 L1361.74 2404.5 M1400.52 2380.5 L1408.28 2392.5 L1400.52 2404.5 M1439.3 2380.5 L1447.06 2392.5 L1439.3 2404.5 M1478.08 2380.5 L1485.84 2392.5 L1478.08 2404.5 M1516.86 2380.5 L1524.62 2392.5 L1516.86 2404.5 M1555.64 2380.5 L1563.4 2392.5 L1555.64 2404.5 M1594.42 2380.5 L1602.18 2392.5 L1594.42 2404.5 M1633.2 2380.5 L1640.96 2392.5 L1633.2 2404.5 M1671.98 2380.5 L1679.74 2392.5 L1671.98 2404.5 M1710.76 2380.5 L1718.52 2392.5 L1710.76 2404.5 M1749.54 2380.5 L1757.3 2392.5 L1749.54 2404.5 M1788.32 2380.5 L1796.08 2392.5 L1788.32 2404.5 M1827.1 2380.5 L1834.86 2392.5 L1827.1 2404.5 M1865.88 2380.5 L1873.64 2392.5 L1865.88 2404.5 M1904.66 2380.5 L1912.42 2392.5 L1904.66 2404.5 M1943.44 2380.5 L1951.2 2392.5 L1943.44 2404.5 M1982.22 2380.5 L1989.98 2392.5 L1982.22 2404.5 M2021 2380.5 L2028.76 2392.5 L2021 2404.5 M2059.78 2380.5 L2067.54 2392.5 L2059.78 2404.5 M2098.56 2380.5 L2106.32 2392.5 L2098.56 2404.5 M2137.34 2380.5 L2145.1 2392.5 L2137.34 2404.5 M2176.12 2380.5 L2183.88 2392.5 L2176.12 2404.5 M2214.9 2380.5 L2222.66 2392.5 L2214.9 2404.5 M2253.68 2380.5 L2261.44 2392.5 L2253.68 2404.5 M2292.46 2380.5 L2300.22 2392.5 L2292.46 2404.5" stroke="#000" stroke-width="2.9" stroke-linecap="square" stroke-linejoin="round" fill="none" clip-path="url(#gclip)"/>
<rect x="399.8" y="2362.5" width="61.5" height="60" fill="#000"/>
<rect x="2271.5" y="2362.5" width="68.1" height="60" fill="#000"/>
</svg>
</body>
</html>
